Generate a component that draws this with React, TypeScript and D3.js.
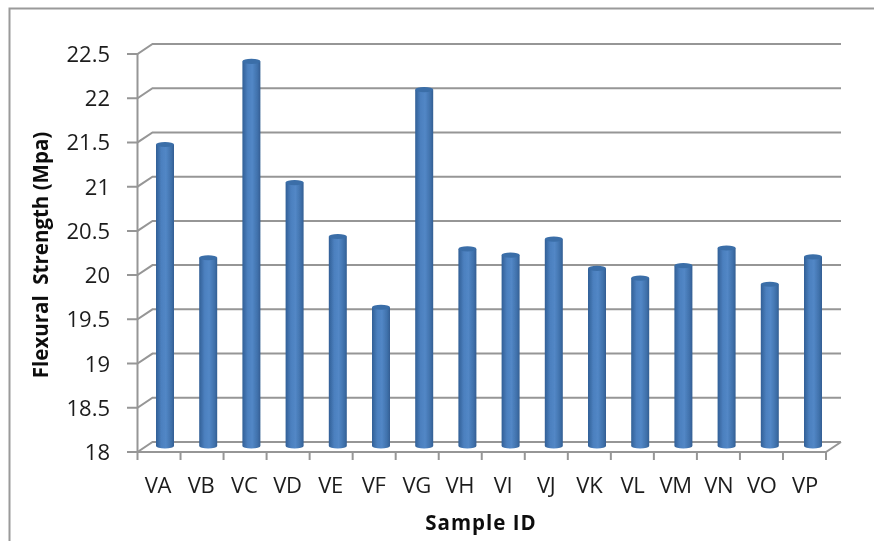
import React from "react";
import * as d3 from "d3";

const categories = ["VA","VB","VC","VD","VE","VF","VG","VH","VI","VJ","VK","VL","VM","VN","VO","VP"];
const values = [21.42,20.14,22.36,20.99,20.38,19.58,22.04,20.24,20.17,20.35,20.02,19.91,20.05,20.25,19.84,20.15];
const ticks = [18,18.5,19,19.5,20,20.5,21,21.5,22,22.5];
const yTitle = "Flexural  Strength (Mpa)";
const xTitle = "Sample ID";

const W = 874, H = 541;
const x = d3.scaleBand<string>().domain(categories).range([137.5, 826]);
const xBar = d3.scalePoint<string>().domain(categories).range([165, 813]);
const xLabel = d3.scalePoint<string>().domain(categories).range([158, 805]);
const yFront = d3.scaleLinear().domain([18, 22.5]).range([452, 54]);
const dx = 15, dy = -10;
const GRID = "#969696";
const FONT = "'Open Sans', Lato, sans-serif";

export default function App() {
  const barW = 18;
  const capRy = 2.6;
  return (
    <svg width={W} height={H} viewBox={`0 0 ${W} ${H}`} style={{ position: "absolute", left: 0, top: 0, background: "#fff" }}>
      <defs>
        <linearGradient id="cyl" x1="0" x2="1" y1="0" y2="0">
          <stop offset="0" stopColor="#315f96" />
          <stop offset="0.3" stopColor="#4c80bf" />
          <stop offset="0.55" stopColor="#5287c6" />
          <stop offset="0.85" stopColor="#3f70aa" />
          <stop offset="1" stopColor="#335e92" />
        </linearGradient>
        <filter id="soft" x="-5%" y="-5%" width="110%" height="110%">
          <feGaussianBlur stdDeviation="0.45" />
        </filter>
        <filter id="softText" x="-5%" y="-5%" width="110%" height="110%">
          <feGaussianBlur stdDeviation="0.3" />
        </filter>
      </defs>
      <path d={`M9.5,${H} V8.5 H${W}`} fill="none" stroke="#9a9a9a" strokeWidth={2} />
      <g filter="url(#soft)">
        <g fill="none" stroke={GRID} strokeWidth={2}>
          {ticks.map((t) => (
            <path key={t} d={`M127,${yFront(t)} H${x.range()[0]} L${x.range()[0] + dx},${yFront(t) + dy} H${x.range()[1] + dx}`} />
          ))}
          <path d={`M${x.range()[0]},${yFront(22.5)} V${yFront(18) + 8}`} />
          <path d={`M${x.range()[0]},${yFront(18)} H${x.range()[1]} L${x.range()[1] + dx},${yFront(18) + dy}`} />
          {categories.map((c) => (
            <path key={c} d={`M${(x(c) as number) + x.bandwidth()},${yFront(18)} v8`} />
          ))}
        </g>
        {categories.map((c, i) => {
          const cx = xBar(c) as number;
          const base = yFront(18) - 5;
          const top = base - (yFront(18) - yFront(values[i]));
          const l = cx - barW / 2, r = cx + barW / 2;
          return (
            <g key={c}>
              <path
                d={`M${l},${top} L${l},${base - 1} A${barW / 2},${capRy} 0 0 0 ${r},${base - 1} L${r},${top} Z`}
                fill="url(#cyl)"
              />
              <ellipse cx={cx} cy={top} rx={barW / 2} ry={capRy} fill="#3a6ea8" />
            </g>
          );
        })}
      </g>
      <g filter="url(#softText)">
        <g fontFamily={FONT} fontSize={22} fill="#1c1c1c">
          {ticks.map((t) => (
            <text key={t} x={110} y={yFront(t) + 8} textAnchor="end">{String(t)}</text>
          ))}
          {categories.map((c) => (
            <text key={c} x={xLabel(c) as number} y={493} textAnchor="middle" letterSpacing={-0.3}>{c}</text>
          ))}
        </g>
        <text x={481} y={530} textAnchor="middle" fontFamily={FONT} fontSize={20.5} fontWeight={700} fill="#111" letterSpacing={1}>{xTitle}</text>
        <text transform="translate(48,255) rotate(-90)" textAnchor="middle" fontFamily={FONT} fontSize={20.5} fontWeight={700} fill="#111" style={{ whiteSpace: "pre" }}>{yTitle}</text>
      </g>
    </svg>
  );
}
